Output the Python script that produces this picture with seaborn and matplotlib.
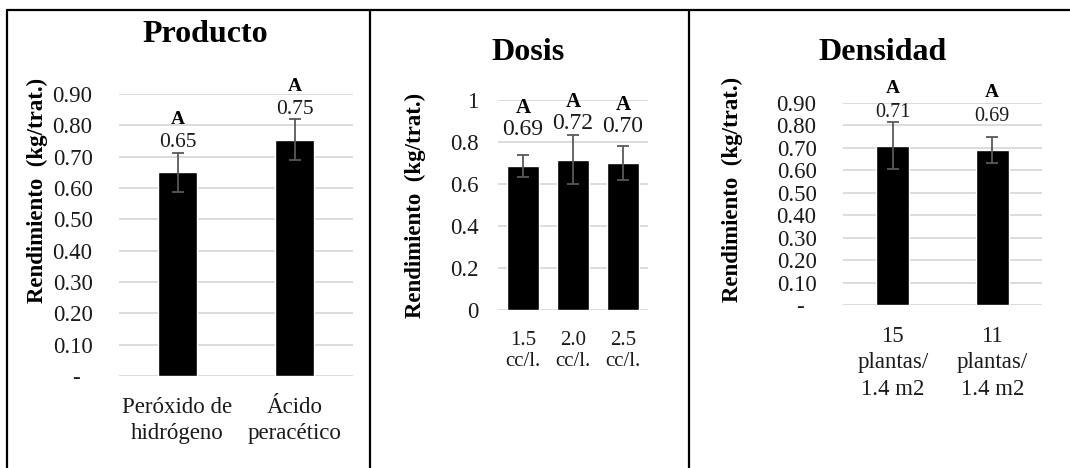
import matplotlib
matplotlib.use("Agg")
import matplotlib.pyplot as plt
from matplotlib.lines import Line2D
import seaborn as sns
import pandas as pd

# ---- data ----
prod_cats = ["Peróxido de\nhidrógeno", "Ácido\nperacético"]
prod_vals = [0.650, 0.754]
prod_errs = [0.062, 0.065]
prod_letters = ["A", "A"]

dosis_cats = ["1.5\ncc/l.", "2.0\ncc/l.", "2.5\ncc/l."]
dosis_vals = [0.687, 0.716, 0.701]
dosis_errs = [0.052, 0.118, 0.081]
dosis_letters = ["A", "A", "A"]

dens_cats = ["15\nplantas/\n1.4 m2", "11\nplantas/\n1.4 m2"]
dens_vals = [0.710, 0.692]
dens_errs = [0.105, 0.058]
dens_letters = ["A", "A"]

ticks_09 = [0.0, 0.1, 0.2, 0.3, 0.4, 0.5, 0.6, 0.7, 0.8, 0.9]
ticklabels_09 = ["-  ", "0.10", "0.20", "0.30", "0.40", "0.50", "0.60", "0.70", "0.80", "0.90"]
ticks_1 = [0.0, 0.2, 0.4, 0.6, 0.8, 1.0]
ticklabels_1 = ["0", "0.2", "0.4", "0.6", "0.8", "1"]

ylabel = "Rendimiento  (kg/trat.)"

sns.set_theme(style="white")
plt.rcParams["font.family"] = ["Liberation Serif", "DejaVu Serif"]

W, H = 1070, 468
fig = plt.figure(figsize=(W / 100, H / 100), dpi=100)
fig.patch.set_facecolor("white")

def px_axes(x0, x1, ytop, ybot):
    return fig.add_axes([x0 / W, (H - ybot) / H, (x1 - x0) / W, (ybot - ytop) / H])

def panel(ax, cats, vals, errs, letters, ymax, ticks, ticklabels, width,
          tick_fs, ypad, xfs, xpad, val_fs, val_off, let_off, let_fs, lsp):
    df = pd.DataFrame({"cat": cats, "val": vals})
    sns.barplot(data=df, x="cat", y="val", color="black", width=width,
                saturation=1, ax=ax, errorbar=None, zorder=3)
    ax.errorbar(x=list(range(len(vals))), y=vals, yerr=errs, fmt="none",
                ecolor="#595959", elinewidth=1.3, capsize=4, capthick=1.3, zorder=4)
    ax.set_xlim(-0.5, len(vals) - 0.5)
    ax.set_ylim(0, ymax)
    ax.set_yticks(ticks)
    ax.set_yticklabels(ticklabels, fontsize=tick_fs)
    ax.tick_params(axis="y", length=0, pad=ypad, colors="#1a1a1a")
    ax.tick_params(axis="x", length=0, pad=xpad, labelsize=xfs, colors="#1a1a1a")
    for lab in ax.get_xticklabels():
        lab.set_linespacing(lsp)
    ax.set_xlabel("")
    ax.set_ylabel("")
    for s in ax.spines.values():
        s.set_visible(False)
    for t in ticks:
        ax.axhline(t, color="#d9d9d9", lw=1.3, zorder=1)
    ax.set_facecolor("white")
    for i, (v, l) in enumerate(zip(vals, letters)):
        ax.annotate(f"{v:.2f}", (i, v), xytext=(0, val_off), textcoords="offset pixels",
                    ha="center", va="center", fontsize=val_fs, color="#1a1a1a",
                    annotation_clip=False, zorder=5)
        ax.annotate(l, (i, v), xytext=(0, val_off + let_off), textcoords="offset pixels",
                    ha="center", va="center", fontsize=let_fs, fontweight="bold",
                    color="black", annotation_clip=False, zorder=5)

ax1 = px_axes(119, 353, 94, 376)
panel(ax1, prod_cats, prod_vals, prod_errs, prod_letters, 0.9, ticks_09, ticklabels_09,
      0.33, 16.5, 19, 16.5, 15, 15.5, 30, 23, 14, 1.35)

ax2 = px_axes(498, 648, 100, 310)
panel(ax2, dosis_cats, dosis_vals, dosis_errs, dosis_letters, 1.0, ticks_1, ticklabels_1,
      0.63, 16.5, 14, 15, 15, 17, 36, 22, 15, 1.15)

ax3 = px_axes(843, 1042, 103, 305)
panel(ax3, dens_cats, dens_vals, dens_errs, dens_letters, 0.9, ticks_09, ticklabels_09,
      0.33, 16.5, 19, 16.5, 15, 14.5, 33, 24, 14, 1.35)

# titles
for txt, x, y in [("Producto", 205, 35), ("Dosis", 528, 52), ("Densidad", 883, 52)]:
    fig.text(x / W, 1 - y / H, txt, ha="center", va="center", fontsize=23,
             fontweight="bold", color="black")
# y labels
for x, y in [(37, 190), (415, 205), (732, 189)]:
    fig.text(x / W, 1 - y / H, ylabel, ha="center", va="center", rotation=90,
             fontsize=16.5, fontweight="bold", color="black")

# table borders
lw = 1.6
fig.add_artist(Line2D([7 / W, 1.0], [1 - 10 / H, 1 - 10 / H], color="black", lw=lw))
for x in (7, 370, 689):
    fig.add_artist(Line2D([x / W, x / W], [0, 1 - 10 / H], color="black", lw=lw))

fig.savefig("out.png", dpi=100, facecolor="white")
